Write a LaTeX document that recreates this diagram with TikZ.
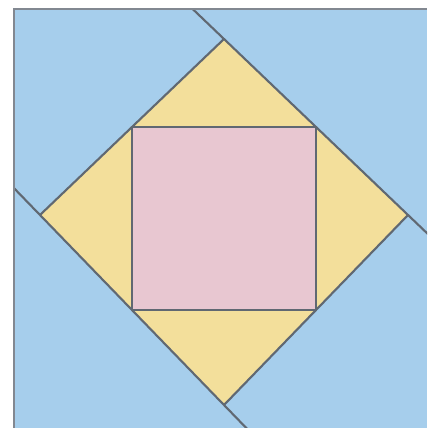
\documentclass[tikz,border=0pt]{standalone}
\usepackage{xcolor}
\usepackage{tikz}
\usetikzlibrary{calc}

\definecolor{tileblue}{RGB}{166,206,236}
\definecolor{tileyellow}{RGB}{243,223,155}
\definecolor{tilepink}{RGB}{232,199,209}
\definecolor{seamgray}{RGB}{96,104,114}
\definecolor{framegray}{RGB}{130,136,145}

\begin{document}
\begin{tikzpicture}[
                x=0.01cm,
                y=-0.01cm,
                seam/.style={draw=seamgray, line width=0.6pt, line join=round},
                frame/.style={draw=framegray, line width=0.65pt}
            ]
                \useasboundingbox (0,0) rectangle (427,428);

                % corners of the diamond
                \coordinate (T) at (224,39);
                \coordinate (R) at (408,215);
                \coordinate (B) at (224,405);
                \coordinate (L) at (40,215);

                % the inner square sits on the midpoints
                \coordinate (TR) at ($(T)!0.5!(R)$);
                \coordinate (RB) at ($(R)!0.5!(B)$);
                \coordinate (BL) at ($(B)!0.5!(L)$);
                \coordinate (LT) at ($(L)!0.5!(T)$);

                % seams running on to the border
                \coordinate (Tx) at ($(T)!-0.4!(R)$);
                \coordinate (Rx) at ($(R)!-0.4!(T)$);
                \coordinate (Lx) at ($(L)!-0.4!(B)$);
                \coordinate (Bx) at ($(B)!-0.4!(L)$);

                \begin{scope}
                    \clip (14,9) rectangle (427,428);
                    \fill[tileblue] (14,9) rectangle (427,428);
                    \fill[tileyellow] (T) -- (R) -- (B) -- (L) -- cycle;
                    \fill[tilepink] (TR) -- (RB) -- (BL) -- (LT) -- cycle;

                    \draw[seam] (TR) -- (RB) -- (BL) -- (LT) -- cycle;
                    \draw[seam] (Tx) -- (Rx);
                    \draw[seam] (Lx) -- (Bx);
                    \draw[seam] (L) -- (T);
                    \draw[seam] (R) -- (B);
                \end{scope}

                \draw[frame] (14,428) -- (14,9) -- (427,9);
            \end{tikzpicture}
\end{document}
